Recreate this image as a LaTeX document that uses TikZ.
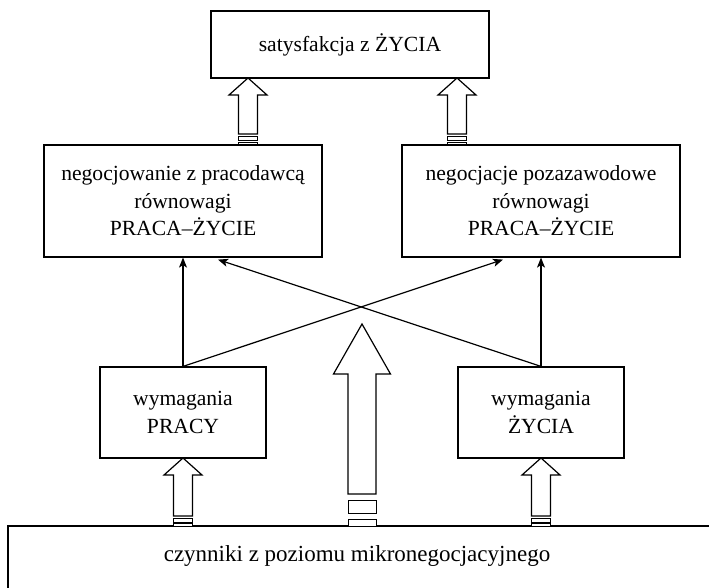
\documentclass[tikz,border=0pt]{standalone}
\usepackage{fontspec}
\setmainfont{Liberation Serif}
\usetikzlibrary{arrows.meta,calc}
\tikzset{
  box/.style={draw, line width=1.2pt, align=center, inner sep=0pt,
    font=\fontsize{21.6}{27.5}\selectfont},
  label/.style={inner sep=0pt, font=\fontsize{23}{28}\selectfont},
  link/.style={line width=1.2pt, -{Stealth[length=10pt,width=8pt,inset=2.5pt]}},
  hollow/.style={draw, fill=white, line width=1.2pt, line join=miter},
  stripe/.style={draw, fill=white, line width=1pt},
}
% block arrow pointing up: x, tip y, head base y, shaft end y, head half width, shaft half width
\newcommand\blockup[6]{%
  \draw[hollow] (#1,#2) -- (#1+#5,#3) -- (#1+#6,#3) -- (#1+#6,#4)
    -- (#1-#6,#4) -- (#1-#6,#3) -- (#1-#5,#3) -- cycle;}
% small band under a block arrow: x, top y, bottom y, half width
\newcommand\band[4]{%
  \draw[stripe] (#1-#4,#2) rectangle (#1+#4,#3);}
\begin{document}
\begin{tikzpicture}[x=1pt,y=-1pt]
\useasboundingbox (0,0) rectangle (709,588);
\clip (0,0) rectangle (709,588);

% boxes
\node[box, minimum width=278, minimum height=67] (sat) at (350,44.5) {satysfakcja z ŻYCIA};
\node[box, minimum width=278, minimum height=112] (negpr) at (183,201)
  {negocjowanie z pracodawcą\\równowagi\\PRACA–ŻYCIE};
\node[box, minimum width=278, minimum height=112] (negpoza) at (541,201)
  {negocjacje pozazawodowe\\równowagi\\PRACA–ŻYCIE};
\node[box, minimum width=166, minimum height=91] (wpracy) at (183,412.5)
  {wymagania\\PRACY};
\node[box, minimum width=166, minimum height=91] (wzycia) at (541,412.5)
  {wymagania\\ŻYCIA};
\node[box, minimum width=732, minimum height=70] (micro) at (374,561) {};
\node[label] (microtxt) at (357,556) {czynniki z poziomu mikronegocjacyjnego};

% thin connectors
\coordinate (inR) at ($(negpoza.south)+(-38,2)$);
\coordinate (inL) at ($(negpr.south)+(35,2)$);
\draw[link] (wpracy.north) -- (negpr.south);
\draw[link] (wzycia.north) -- (negpoza.south);
\draw[link] (wpracy.north) -- (inR);
\draw[link] (wzycia.north) -- (inL);

% block arrows into the top box
\blockup{248}{78}{95}{134}{19}{9.5}
\band{248}{137}{140.5}{9.5}
\band{248}{142.5}{145}{9.5}
\blockup{457}{78}{95}{134}{19}{9.5}
\band{457}{137}{140.5}{9.5}
\band{457}{142.5}{145}{9.5}

% central block arrow
\blockup{362}{324}{374}{494}{28.5}{14}
\band{362}{500}{513}{14}
\band{362}{519}{526}{14}

% block arrows from the bottom box
\blockup{183}{458}{475}{516}{19}{9.5}
\band{183}{518.5}{522}{9.5}
\band{183}{523.5}{526}{9.5}
\blockup{541}{458}{475}{516}{19}{9.5}
\band{541}{518.5}{522}{9.5}
\band{541}{523.5}{526}{9.5}
\end{tikzpicture}
\end{document}
